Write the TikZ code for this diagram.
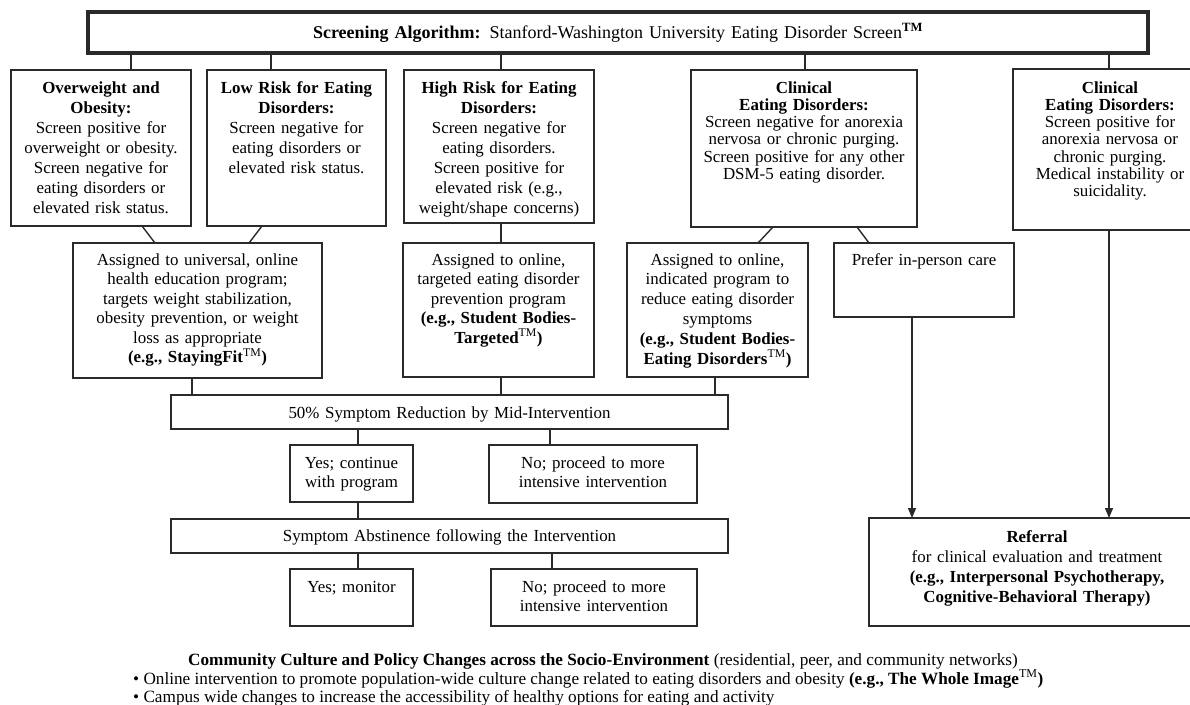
\documentclass[tikz,border=0pt]{standalone}
\usepackage{fontspec}
\setmainfont{Liberation Serif}
\usetikzlibrary{arrows.meta}
\definecolor{linec}{HTML}{2A2A2A}
\lineskiplimit=-50pt
\newcommand\mkbox[6][]{\node[boxst,#1,minimum width=#5pt,minimum height=#6pt] (#2) at (#3,#4) {};}
\newcommand\fsz[1]{\fontsize{16.9}{#1}\selectfont}
\begin{document}
\begin{tikzpicture}[x=1pt,y=-1pt,
  boxst/.style={draw=linec,line width=1.4pt,inner sep=0pt,outer sep=0pt},
  txt/.style={align=center,inner sep=0pt,anchor=base,font=\fsz{20}},
  conn/.style={draw=linec,line width=1.4pt},
  arr/.style={conn,-{Triangle[length=10pt,width=8pt]}}]
\useasboundingbox[fill=white] (0,0) rectangle (1190,704);

% boxes
\mkbox[line width=4pt]{banner}{618}{32.5}{1060}{41}
\mkbox{b1}{101}{148}{180}{156}
\mkbox{b2}{296.5}{148}{179}{156}
\mkbox{b3}{499}{146.5}{190}{153}
\mkbox{b4}{804}{148.5}{226}{157}
\mkbox{b5}{1110}{149.5}{194}{161}
\mkbox{pA}{197.5}{310.5}{249}{135}
\mkbox{pB}{498.5}{310}{191}{134}
\mkbox{pC}{717.5}{310}{181}{134}
\mkbox{pD}{924}{280}{180}{74}
\mkbox{mid}{449.5}{412}{557}{34}
\mkbox{yes1}{351.5}{473.5}{123}{57}
\mkbox{no1}{593}{474}{208}{58}
\mkbox{abst}{449.5}{536}{557}{34}
\mkbox{yes2}{351.5}{597.5}{123}{57}
\mkbox{no2}{594}{597.5}{206}{57}
\mkbox{ref}{1037}{572}{336}{108}

% texts
\node[txt,font=\fontsize{18}{20}\selectfont,text width=1040pt] (tT) at (618,38) {\textbf{Screening Algorithm:} Stanford-Washington University Eating Disorder Screen\textsuperscript{\textbf{TM}}};
\node[txt,text width=178pt] (t1) at (101,93) {\textbf{Overweight and}\\\textbf{Obesity:}\\Screen positive for\\overweight or obesity.\\Screen negative for\\eating disorders or\\elevated risk status.};
\node[txt,text width=177pt] (t2) at (296.5,93) {\textbf{Low Risk for Eating}\\\textbf{Disorders:}\\Screen negative for\\eating disorders or\\elevated risk status.};
\node[txt,text width=188pt] (t3) at (499,93) {\textbf{High Risk for Eating}\\\textbf{Disorders:}\\Screen negative for\\eating disorders.\\Screen positive for\\elevated risk (e.g.,\\weight/shape concerns)};
\node[txt,text width=224pt,font=\fsz{17.3}] (t4) at (804,93) {\textbf{Clinical}\\\textbf{Eating Disorders:}\\Screen negative for anorexia\\nervosa or chronic purging.\\Screen positive for any other\\DSM-5 eating disorder.};
\node[txt,text width=192pt,font=\fsz{17.3}] (t5) at (1110,93) {\textbf{Clinical}\\\textbf{Eating Disorders:}\\Screen positive for\\anorexia nervosa or\\chronic purging.\\Medical instability or\\suicidality.};
\node[txt,text width=247pt,font=\fsz{19.5}] (tA) at (197.5,265) {Assigned to universal, online\\health education program;\\targets weight stabilization,\\obesity prevention, or weight\\loss as appropriate\\\textbf{(e.g., StayingFit}\textsuperscript{TM}\textbf{)}};
\node[txt,text width=189pt,font=\fsz{19.5}] (tB) at (498.5,265) {Assigned to online,\\targeted eating disorder\\prevention program\\\textbf{(e.g., Student Bodies-}\\\textbf{Targeted}\textsuperscript{TM}\textbf{)}};
\node[txt,text width=179pt,font=\fsz{19.8}] (tC) at (717.5,265) {Assigned to online,\\indicated program to\\reduce eating disorder\\symptoms\\\textbf{(e.g., Student Bodies-}\\\textbf{Eating Disorders}\textsuperscript{TM}\textbf{)}};
\node[txt,text width=178pt] (tD) at (924,265) {Prefer in-person care};
\node[txt,text width=550pt] (tM) at (449.5,418) {50\% Symptom Reduction by Mid-Intervention};
\node[txt,text width=121pt,font=\fsz{19}] (tY1) at (351.5,468) {Yes; continue\\with program};
\node[txt,text width=206pt,font=\fsz{19}] (tN1) at (593,468) {No; proceed to more\\intensive intervention};
\node[txt,text width=550pt] (tS) at (449.5,541) {Symptom Abstinence following the Intervention};
\node[txt,text width=121pt] (tY2) at (351.5,592) {Yes; monitor};
\node[txt,text width=204pt,font=\fsz{19}] (tN2) at (594,592) {No; proceed to more\\intensive intervention};
\node[txt,text width=334pt] (tR) at (1037,542) {\textbf{Referral}\\for clinical evaluation and treatment\\\textbf{(e.g., Interpersonal Psychotherapy,}\\\textbf{Cognitive-Behavioral Therapy)}};

\node[txt,font=\fontsize{17.2}{18}\selectfont] (c1) at (603,665) {\textbf{Community Culture and Policy Changes across the Socio-Environment} (residential, peer, and community networks)};
\node[txt,anchor=base west,font=\fontsize{17.2}{18}\selectfont] (c2) at (133,684) {\textbullet{} Online intervention to promote population-wide culture change related to eating disorders and obesity \textbf{(e.g., The Whole Image}\textsuperscript{TM}\textbf{)}};
\node[txt,anchor=base west,font=\fontsize{17.2}{18}\selectfont] (c3) at (133,702) {\textbullet{} Campus wide changes to increase the accessibility of healthy options for eating and activity};

% connectors
\draw[conn] ([xshift=30pt]b1.north) -- ([xshift=30pt]b1.north |- banner.south);
\draw[conn] ([xshift=-25.5pt]b2.north) -- ([xshift=-25.5pt]b2.north |- banner.south);
\draw[conn] ([xshift=2pt]b3.north) -- ([xshift=2pt]b3.north |- banner.south);
\draw[conn] ([xshift=1pt]b4.north) -- ([xshift=1pt]b4.north |- banner.south);
\draw[conn] ([xshift=-1pt]b5.north) -- ([xshift=-1pt]b5.north |- banner.south);
\draw[conn] ([xshift=41pt]b1.south) -- ([xshift=-42.5pt]pA.north);
\draw[conn] ([xshift=-34.5pt]b2.south) -- ([xshift=51.5pt]pA.north);
\draw[conn] ([xshift=2pt]b3.south) -- ([xshift=2pt]b3.south |- pB.north);
\draw[conn] ([xshift=-31pt]b4.south) -- ([xshift=40.5pt]pC.north);
\draw[conn] ([xshift=53pt]b4.south) -- ([xshift=-55pt]pD.north);
\draw[conn] ([xshift=-5.5pt]pA.south) -- ([xshift=-5.5pt]pA.south |- mid.north);
\draw[conn] ([xshift=2.5pt]pB.south) -- ([xshift=2.5pt]pB.south |- mid.north);
\draw[conn] ([xshift=-2.5pt]pC.south) -- ([xshift=-2.5pt]pC.south |- mid.north);
\draw[conn] ([xshift=6.5pt]yes1.north) -- ([xshift=6.5pt]yes1.north |- mid.south);
\draw[conn] ([xshift=-43pt]no1.north) -- ([xshift=-43pt]no1.north |- mid.south);
\draw[conn] ([xshift=6.5pt]yes1.south) -- ([xshift=6.5pt]yes1.south |- abst.north);
\draw[conn] ([xshift=6.5pt]yes2.north) -- ([xshift=6.5pt]yes2.north |- abst.south);
\draw[conn] ([xshift=-42pt]no2.north) -- ([xshift=-42pt]no2.north |- abst.south);
\draw[arr] ([xshift=-12pt]pD.south) -- ([xshift=-12pt]pD.south |- ref.north);
\draw[arr] ([xshift=-1pt]b5.south) -- ([xshift=-1pt]b5.south |- ref.north);
\end{tikzpicture}
\end{document}
